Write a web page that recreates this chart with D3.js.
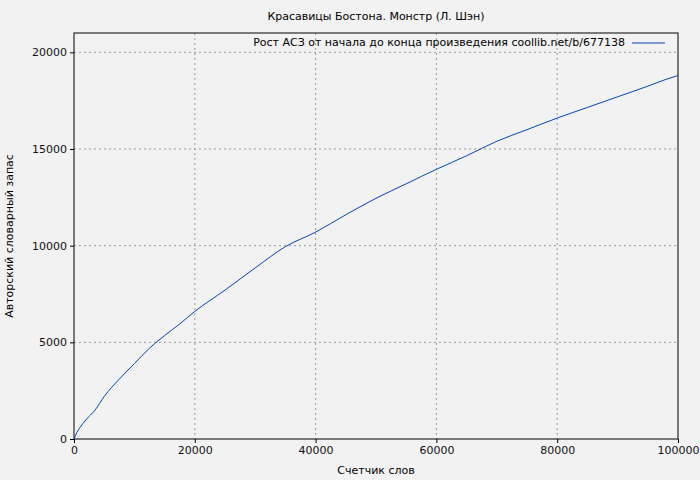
<head>
    <script src="https://d3js.org/d3.v7.min.js"></script>
    <style>body{margin:0;background:#f2f2f2;} text{font-family:"DejaVu Sans";}</style>
</head>
<body>
<script>
    // words read vs. distinct words
    let words = [0, 500, 1000, 2000, 3500, 5000, 7500, 10000, 12500, 15000, 17500, 20000, 25000, 30000, 35000, 40000, 45000, 50000, 55000, 60000, 65000, 70000, 75000, 80000, 85000, 90000, 95000, 98000, 100000];
    let vocab = [0, 350, 600, 1000, 1500, 2200, 3100, 3900, 4700, 5350, 5950, 6600, 7700, 8850, 9950, 10700, 11600, 12450, 13200, 13950, 14650, 15400, 16000, 16600, 17150, 17700, 18250, 18600, 18800];
    let xTicks = [0, 20000, 40000, 60000, 80000, 100000];
    let yTicks = [0, 5000, 10000, 15000, 20000];

    let width = 700, height = 480;
    let m = {left: 74, right: 22, top: 33, bottom: 41};
    let svg = d3.select("body").append("svg")
        .attr("width", width)
        .attr("height", height);

    let x = d3.scaleLinear().domain([0, 100000]).range([m.left, width - m.right]);
    let y = d3.scaleLinear().domain([0, 21000]).range([height - m.bottom, m.top]);

    // grid
    svg.selectAll(".gx").data(xTicks.slice(1, -1)).join("line")
        .attr("x1", d => x(d)).attr("x2", d => x(d))
        .attr("y1", m.top).attr("y2", height - m.bottom)
        .attr("stroke", "#999").attr("stroke-dasharray", "2,3");
    svg.selectAll(".gy").data(yTicks.slice(1)).join("line")
        .attr("x1", m.left).attr("x2", width - m.right)
        .attr("y1", d => y(d)).attr("y2", d => y(d))
        .attr("stroke", "#999").attr("stroke-dasharray", "2,3");

    svg.append("rect")
        .attr("x", m.left).attr("y", m.top)
        .attr("width", width - m.left - m.right)
        .attr("height", height - m.top - m.bottom)
        .attr("fill", "none").attr("stroke", "black");

    let xAxis = svg.append("g")
        .attr("transform", `translate(0,${height - m.bottom})`)
        .call(d3.axisBottom(x).tickValues(xTicks).tickFormat(d3.format("d")).tickSizeOuter(0).tickSize(4));
    let yAxis = svg.append("g")
        .attr("transform", `translate(${m.left},0)`)
        .call(d3.axisLeft(y).tickValues(yTicks).tickFormat(d3.format("d")).tickSizeOuter(0).tickSize(4));
    [xAxis, yAxis].forEach(a => {
        a.select(".domain").remove();
        a.selectAll("text").attr("font-size", 11).attr("font-family", "DejaVu Sans").attr("fill", "#111");
    });

    let line = d3.line()
        .x((d, i) => x(words[i]))
        .y(d => y(d))
        .curve(d3.curveMonotoneX);
    svg.append("path")
        .datum(vocab)
        .attr("d", line)
        .attr("fill", "none")
        .attr("stroke", "#0046b4")
        .attr("stroke-width", 1);

    // titles
    svg.append("text").attr("x", 376).attr("y", 20).attr("text-anchor", "middle")
        .attr("font-size", 11).text("Красавицы Бостона. Монстр (Л. Шэн)");
    svg.append("text").attr("x", 376).attr("y", 474).attr("text-anchor", "middle")
        .attr("font-size", 11).text("Счетчик слов");
    svg.append("text").attr("transform", "translate(13,236) rotate(-90)").attr("text-anchor", "middle")
        .attr("font-size", 11).text("Авторский словарный запас");

    // legend
    svg.append("text").attr("x", 625).attr("y", 46).attr("text-anchor", "end")
        .attr("font-size", 11).text("Рост АСЗ от начала до конца произведения coollib.net/b/677138");
    svg.append("line").attr("x1", 632).attr("x2", 665).attr("y1", 43).attr("y2", 43)
        .attr("stroke", "#0046b4");
</script>
</body>
</html>
